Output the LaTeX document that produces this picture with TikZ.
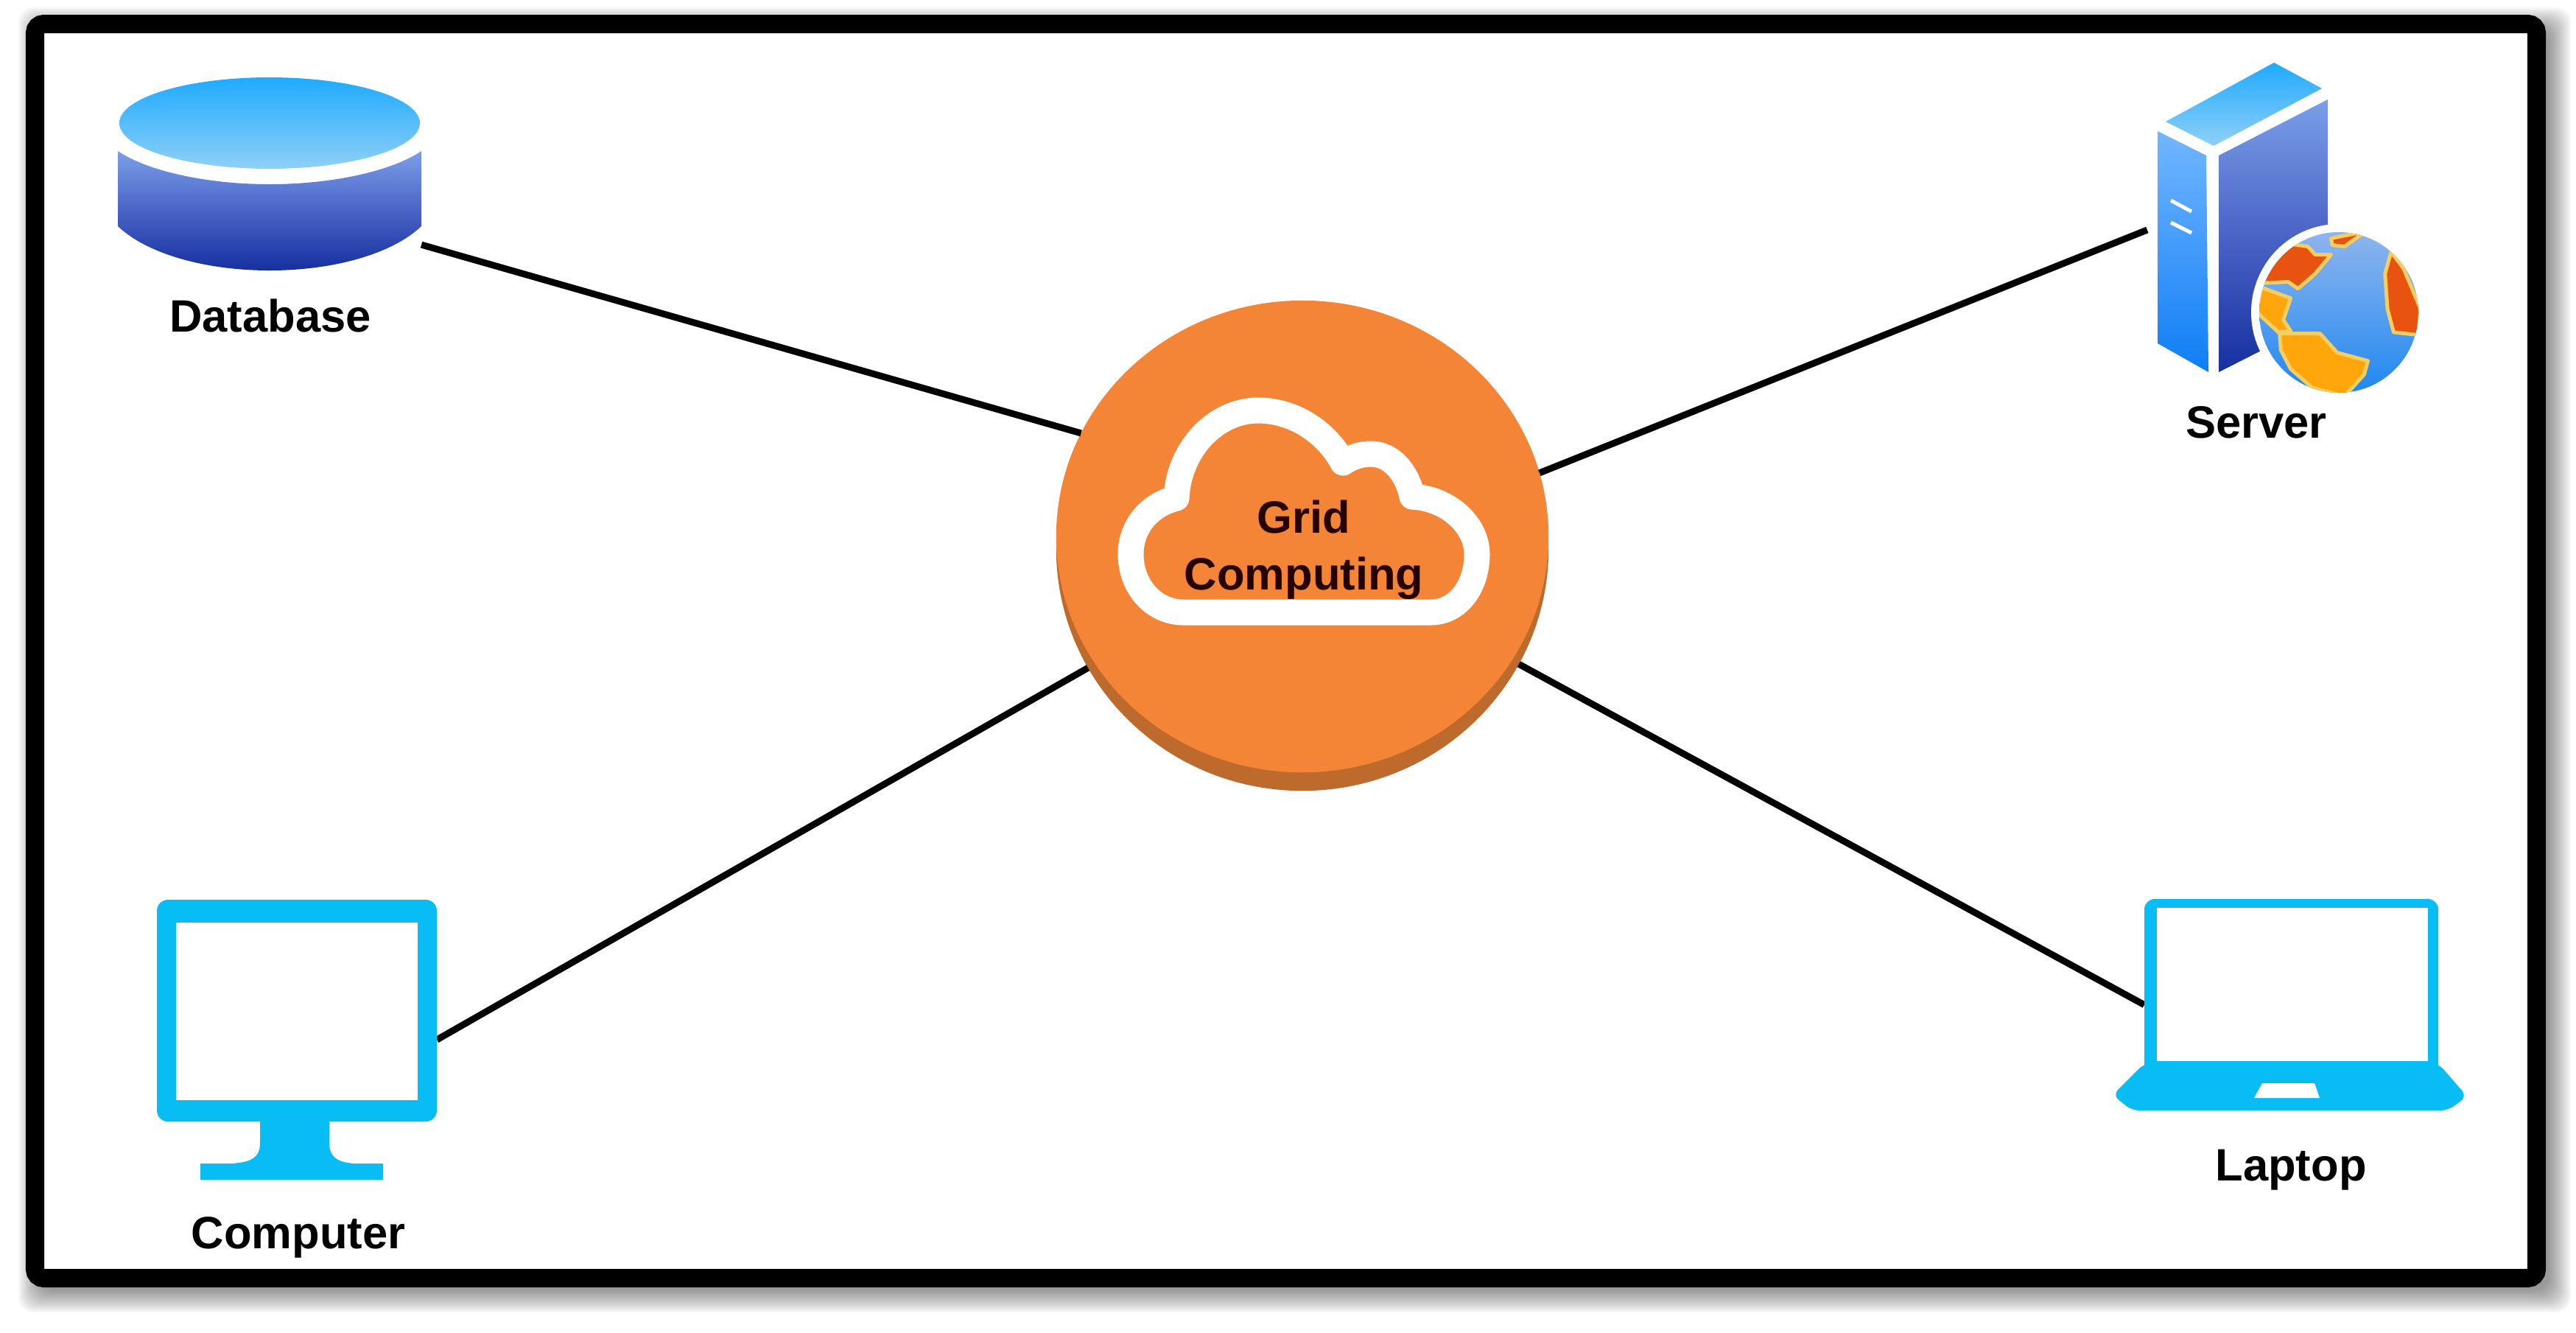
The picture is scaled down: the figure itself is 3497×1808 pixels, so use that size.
\documentclass[tikz,border=0pt]{standalone}
\usepackage{fontspec}
\setmainfont{Liberation Sans}
\usetikzlibrary{shapes.geometric}
\definecolor{hubface}{HTML}{F58536}
\definecolor{hubside}{HTML}{BE6A2C}
\definecolor{iconblue}{HTML}{08BDF4}
\definecolor{redland}{HTML}{E8540F}
\definecolor{orangeland}{HTML}{FFA60D}
\definecolor{coast}{HTML}{F4CE62}
\definecolor{BodyTop}{HTML}{7A9FE8}
\definecolor{BodyMid}{HTML}{4A63C6}
\definecolor{BodyBottom}{HTML}{1530A0}
\definecolor{FaceTop}{HTML}{1FAAFF}
\definecolor{FaceBottom}{HTML}{8FD0F6}
\definecolor{TowerTop}{HTML}{72B6FF}
\definecolor{TowerBottom}{HTML}{0F7EF5}
\definecolor{GlobeTop}{HTML}{90B6EE}
\definecolor{GlobeBottom}{HTML}{1C86F0}
\begin{document}
\begin{tikzpicture}[
    x=0.01cm, y=-0.01cm,
    iconbox/.style={rectangle, inner sep=0pt, outer sep=0pt},
    disc/.style={ellipse, inner sep=0pt, outer sep=0pt, minimum width=6.68cm},
    lbl/.style={anchor=base, inner sep=0pt, font=\fontsize{17.5}{21.9}\selectfont\bfseries, align=center},
    link/.style={line width=0.09cm, black},
    coastline/.style={draw=coast, line width=0.05cm, line join=round}
]
\useasboundingbox (0,0) rectangle (3497,1808);

% Frame with soft shadow
\foreach \d in {22,20,...,-8} {
  \fill[black, opacity=0.03, rounded corners=0.2cm] (47-\d,32-\d) rectangle (3468+\d,1759+\d);
}
\draw[line width=0.25cm, black, fill=white, rounded corners=0.12cm] (47.5,32.5) rectangle (3443.5,1734.5);

% Icon boxes
\node[iconbox, minimum width=4.12cm, minimum height=2.62cm] (db) at (366,236) {};
\node[iconbox, minimum width=3.68cm, minimum height=4.58cm] (server) at (3099,312) {};
\node[iconbox, minimum width=3.80cm, minimum height=3.80cm] (computer) at (403,1411) {};
\node[iconbox, minimum width=3.99cm, minimum height=2.24cm] (laptop) at (3110.5,1332) {};

% Hub
\node[disc, fill=hubside, minimum height=6.56cm] (hubbase) at (1768,745) {};
\node[disc, fill=hubface, minimum height=6.40cm] (hub) at (1768,728) {};

% Connectors
\draw[link] (db.-25) -- (hub.155.7);
\draw[link] (server.west) -- (hub.15.4);
\draw[link] (computer.east) -- (hubbase.209.5);
\draw[link] (laptop.189) -- (hubbase.332.5);

% Cloud
\draw[white, line width=0.35cm, line join=round] (1607,831) -- (1942,831)
  .. controls (1980,831) and (2005,795) .. (2005,752)
  .. controls (2005,712) and (1965,676) .. (1917,674)
  .. controls (1910,640) and (1888,616) .. (1861,616)
  .. controls (1848,616) and (1835,620) .. (1823,628)
  .. controls (1800,585) and (1755,557) .. (1708,557)
  .. controls (1650,557) and (1600,610) .. (1597,676)
  .. controls (1560,685) and (1535,715) .. (1535,752)
  .. controls (1535,795) and (1565,831) .. (1607,831) -- cycle;
\node[lbl, text=black!85!red] (gridlabel) at (1770,800) {Grid\\Computing};

% Database
\path[top color=BodyTop, bottom color=BodyBottom, middle color=BodyMid] (160,205) -- (160,307)
  .. controls (200,345) and (280,367) .. (366,367)
  .. controls (452,367) and (532,345) .. (572,307) -- (572,205)
  .. controls (532,232) and (452,250) .. (366,250)
  .. controls (280,250) and (200,232) .. (160,205) -- cycle;
\path[top color=FaceTop, bottom color=FaceBottom] (366,167) ellipse [x radius=204, y radius=62];
\node[lbl] (dblabel) at (367,450) {Database};

% Server
\path[top color=FaceTop, bottom color=FaceBottom] (2940,165) -- (3087,85) -- (3152,120) -- (3005,198) -- cycle;
\path[top color=TowerTop, bottom color=TowerBottom] (2929,178) -- (2995,211) -- (2998,505) -- (2929,466) -- cycle;
\path[top color=BodyTop, bottom color=BodyBottom, middle color=BodyMid] (3012,211) -- (3160,135) -- (3160,430) -- (3012,505) -- cycle;
\draw[white, line width=0.05cm] (2947,272) -- (2975,287);
\draw[white, line width=0.05cm] (2947,302) -- (2975,316);
\fill[white] (3175,424) ellipse [x radius=119, y radius=120];
\begin{scope}
  \clip (3175,424) ellipse [x radius=108, y radius=109];
  \path[top color=GlobeTop, bottom color=GlobeBottom] (3060,310) rectangle (3290,540);
  \begin{scope}[shift={(2850,50)}, x=0.00333cm, y=-0.0037cm]
    \filldraw[coastline, fill=redland] (660,905) -- (690,820) -- (770,760) -- (850,770) -- (880,800) -- (945,800) -- (880,870) -- (810,925) -- (770,900) -- cycle;
    \filldraw[coastline, fill=redland] (945,740) -- (1085,715) -- (1000,770) -- (950,765) -- cycle;
    \filldraw[coastline, fill=redland] (1190,790) -- (1240,850) -- (1310,1000) -- (1300,1095) -- (1200,1085) -- (1175,1000) -- (1165,870) -- cycle;
    \filldraw[coastline, fill=orangeland] (660,920) -- (780,960) -- (750,1040) -- (780,1080) -- (730,1085) -- (640,1010) -- cycle;
    \filldraw[coastline, fill=orangeland] (735,1090) -- (900,1090) -- (970,1160) -- (1095,1190) -- (1080,1240) -- (1000,1320) -- (870,1290) -- (780,1220) -- (740,1150) -- cycle;
  \end{scope}
\end{scope}
\node[lbl] (serverlabel) at (3063,594) {Server};

% Computer
\fill[iconblue, rounded corners=0.15cm] (213,1221) rectangle (593,1522);
\fill[white] (239,1252) rectangle (567,1493);
\fill[iconblue] (353,1515) -- (353,1551) .. controls (353,1572) and (340,1577) .. (315,1579) -- (272,1579) -- (272,1601) -- (520,1601) -- (520,1579) -- (480,1579) .. controls (460,1577) and (447,1572) .. (447,1551) -- (447,1515) -- cycle;
\node[lbl] (computerlabel) at (405,1694) {Computer};

% Laptop
\fill[iconblue, rounded corners=0.14cm] (2911,1220) rectangle (3310,1460);
\fill[white] (2928,1232) rectangle (3296,1440);
\fill[iconblue, rounded corners=0.1cm] (2911,1443) -- (3310,1443) -- (3349,1488) -- (3323,1507) -- (2894,1507) -- (2868,1486) -- cycle;
\fill[white] (3071,1470) -- (3142,1470) -- (3149,1490) -- (3060,1490) -- cycle;
\node[lbl] (laptoplabel) at (3110,1602) {Laptop};

\end{tikzpicture}
\end{document}
